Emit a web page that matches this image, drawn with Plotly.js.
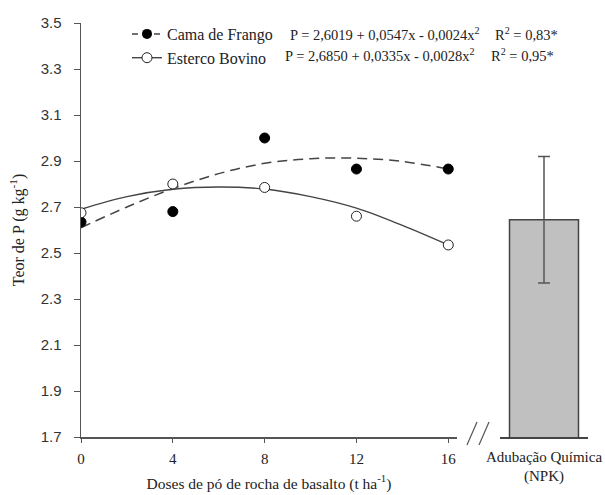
<!DOCTYPE html>
<html>
<head>
<meta charset="utf-8">
<script src="https://cdn.plot.ly/plotly-3.0.1.min.js"></script>
<style>html,body{margin:0;padding:0;background:#fff;}#chart{width:605px;height:495px;}</style>
</head>
<body>
<div id="chart"></div>
<script>
// Observed data
const doses = [0, 4, 8, 12, 16];
const camaFrango = [2.635, 2.68, 3.00, 2.865, 2.865];
const estercoBovino = [2.675, 2.80, 2.785, 2.66, 2.535];

// Fitted curves
const curveX = [0, 2, 4, 6, 8, 10, 12, 14, 16];
const camaFit = [2.61, 2.70, 2.78, 2.845, 2.89, 2.91, 2.912, 2.898, 2.865];
const bovinoFit = [2.69, 2.745, 2.777, 2.787, 2.778, 2.745, 2.695, 2.62, 2.535];

// Chemical fertilizer bar
const npkCategory = ['Adubação Química<br>(NPK)'];
const npkValue = [2.645];
const npkError = [0.275];

// Text
const seriesNames = ['Cama de Frango', 'Esterco Bovino'];
const equations = ['P = 2,6019 + 0,0547x - 0,0024x<sup>2</sup>', 'P = 2,6850 + 0,0335x - 0,0028x<sup>2</sup>'];
const r2Labels = ['R<sup>2</sup> = 0,83*', 'R<sup>2</sup> = 0,95*'];
const xTicks = [0, 4, 8, 12, 16];
const yTicks = [1.7, 1.9, 2.1, 2.3, 2.5, 2.7, 2.9, 3.1, 3.3, 3.5];

const serif = '"Liberation Serif", "Times New Roman", serif';
const sans = '"Liberation Sans", Arial, sans-serif';
const lineCol = '#444';

const traces = [
  {x: curveX, y: camaFit, mode: 'lines', line: {color: lineCol, width: 1.5, dash: '10px,6px', shape: 'spline'}, showlegend: false, xaxis: 'x', yaxis: 'y', hoverinfo: 'skip'},
  {x: curveX, y: bovinoFit, mode: 'lines', line: {color: lineCol, width: 1.4, shape: 'spline'}, showlegend: false, xaxis: 'x', yaxis: 'y', hoverinfo: 'skip'},
  {x: doses, y: camaFrango, mode: 'markers', marker: {color: '#000', size: 10, line: {color: '#000', width: 1}}, showlegend: false, xaxis: 'x', yaxis: 'y'},
  {x: doses, y: estercoBovino, mode: 'markers', marker: {color: '#fff', size: 10, line: {color: '#222', width: 1}}, showlegend: false, xaxis: 'x', yaxis: 'y'},
  // legend entries
  {x: [null], y: [null], name: seriesNames[0], mode: 'lines+markers', line: {color: lineCol, width: 1.5, dash: '6px,5px'}, marker: {color: '#000', size: 10}, xaxis: 'x', yaxis: 'y'},
  {x: [null], y: [null], name: seriesNames[1], mode: 'lines+markers', line: {color: lineCol, width: 1.4}, marker: {color: '#fff', size: 10, line: {color: '#222', width: 1}}, xaxis: 'x', yaxis: 'y'},
  {type: 'bar', x: npkCategory, y: npkValue, width: 0.784, marker: {color: '#c0c0c0', line: {color: lineCol, width: 1.5}},
   error_y: {type: 'data', array: npkError, visible: true, color: '#555', thickness: 1.5, width: 6},
   showlegend: false, xaxis: 'x2', yaxis: 'y'}
];

const annotations = [];
for (let i = 0; i < 2; i++) {
  annotations.push({xref: 'paper', yref: 'paper', x: i === 0 ? (288 - 81) / 507 : (283 - 81) / 507, y: i === 0 ? (437 - 34) / 414 : (437 - 55) / 414,
    xanchor: 'left', yanchor: 'middle', text: equations[i], showarrow: false, font: {family: serif, size: 14.5, color: '#222'}});
  annotations.push({xref: 'paper', yref: 'paper', x: i === 0 ? (493 - 81) / 507 : (489 - 81) / 507, y: i === 0 ? (437 - 34) / 414 : (437 - 55) / 414,
    xanchor: 'left', yanchor: 'middle', text: r2Labels[i], showarrow: false, font: {family: serif, size: 14.5, color: '#222'}});
}

const layout = {
  width: 605, height: 495,
  margin: {l: 81, r: 17, t: 23, b: 58},
  paper_bgcolor: '#fff', plot_bgcolor: '#fff',
  showlegend: true,
  legend: {x: (127 - 81) / 507, y: (437 - 17) / 414, xanchor: 'left', yanchor: 'top', bgcolor: 'rgba(0,0,0,0)',
    font: {family: serif, size: 16, color: '#222'}, tracegroupgap: 0},
  xaxis: {domain: [0, (457 - 81) / 507], range: [0, 16.38], tickvals: xTicks, ticktext: xTicks.map(String),
    ticks: 'outside', ticklen: 4, tickcolor: '#555', showline: true, linecolor: '#555', linewidth: 1.5,
    showgrid: false, zeroline: false, tickfont: {family: serif, size: 15, color: '#222'}, ticklabelstandoff: 3,
    title: {text: 'Doses de pó de rocha de basalto (t ha<sup>-1</sup>)', font: {family: serif, size: 15.5, color: '#222'}, standoff: 12}},
  xaxis2: {domain: [(500 - 81) / 507, 1], range: [-0.5, 0.5], type: 'category', anchor: 'y',
    showline: true, linecolor: '#444', linewidth: 1.5, ticks: '', showgrid: false, zeroline: false,
    tickfont: {family: serif, size: 15, color: '#222'}, ticklabelstandoff: 5},
  yaxis: {range: [1.7, 3.5], tickvals: yTicks, ticktext: yTicks.map(v => v.toFixed(1)),
    ticks: 'outside', ticklen: 6, tickcolor: '#555', showline: true, linecolor: '#555', linewidth: 1.5,
    showgrid: false, zeroline: false, tickfont: {family: sans, size: 15, color: '#333'}, ticklabelstandoff: 9,
    title: {text: 'Teor de P (g kg<sup>-1</sup>)', font: {family: serif, size: 16, color: '#222'}, standoff: 12}},
  annotations: annotations,
  shapes: [
    {type: 'line', xref: 'paper', yref: 'paper', x0: (467 - 81) / 507, y0: (437 - 445) / 414, x1: (477 - 81) / 507, y1: (437 - 422) / 414, line: {color: '#555', width: 1.2}},
    {type: 'line', xref: 'paper', yref: 'paper', x0: (479 - 81) / 507, y0: (437 - 445) / 414, x1: (489 - 81) / 507, y1: (437 - 422) / 414, line: {color: '#555', width: 1.2}}
  ]
};

Plotly.newPlot('chart', traces, layout, {displayModeBar: false, staticPlot: true});
</script>
</body>
</html>
